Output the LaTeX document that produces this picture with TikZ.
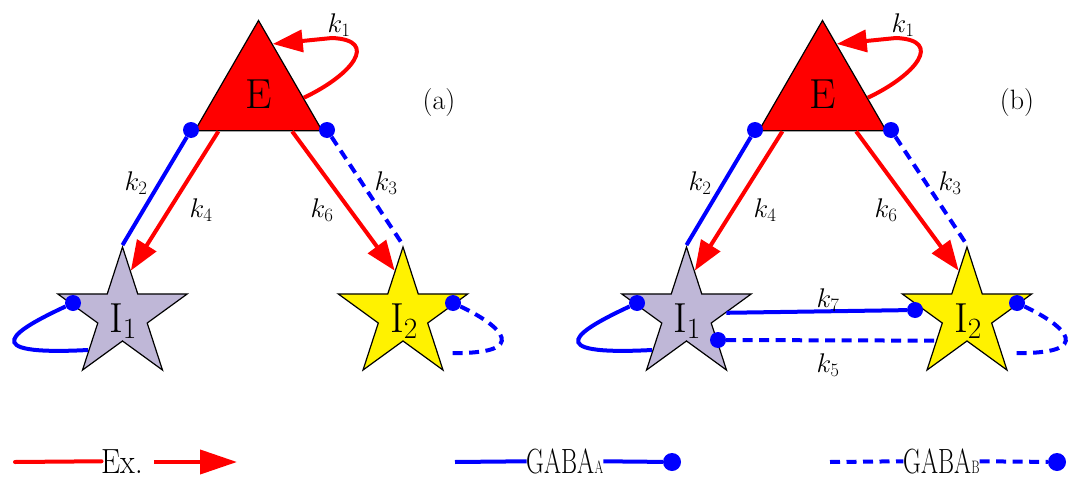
\RequirePackage{fix-cm}
\documentclass[tikz,border=0pt]{standalone}
\usetikzlibrary{calc,shapes.geometric,arrows.meta}
\definecolor{lilac}{RGB}{191,183,215}
\tikzstyle{vx}=[shape=circle, minimum size=16pt, inner sep=0, fill=blue]
\tikzstyle{exc}=[draw=red, line width=4pt, -{Triangle[length=30pt,width=22pt]}]
\tikzstyle{inha}=[draw=blue, line width=4pt]
\tikzstyle{inhb}=[draw=blue, line width=4pt, dash pattern=on 10pt off 6.5pt]
\tikzstyle{cell}=[star, star points=5, star point ratio=2.618, minimum size=136pt, inner sep=0, draw=black, line width=1.2pt]
\tikzstyle{tri}=[regular polygon, regular polygon sides=3, minimum size=147pt, inner sep=0, fill=red, draw=black, line width=1.2pt]
\tikzstyle{big}=[font=\fontsize{42}{42}\selectfont, inner sep=0]
\tikzstyle{klab}=[font=\fontsize{27}{27}\selectfont, inner sep=0]
\tikzstyle{leg}=[font=\fontsize{35}{35}\selectfont, inner sep=0, anchor=base]

\begin{document}
\begin{tikzpicture}[x=1pt,y=-1pt]
\useasboundingbox (0,0) rectangle (1077,479);
\foreach \p/\dx/\lx in {a/0/439,b/564/453}{
\begin{scope}[shift={(\dx,0)}]
\node[tri, big] (e\p) at (258.5,94) {E};
\node[cell, fill=lilac] (ia\p) at (122.5,315) {};
\node[cell, fill=yellow] (ib\p) at (403,315) {};
\node[big] (la\p) at (123,321) {$\mathrm{I}_1$};
\node[big] (lb\p) at (404,321) {$\mathrm{I}_2$};
\node[vx] (dl\p) at (191,130) {};
\node[vx] (dr\p) at (327,130) {};
\node[vx] (da\p) at (73,303) {};
\node[vx] (db\p) at (453,303) {};
\coordinate (ea\p) at (88,350);
\coordinate (eb\p) at (447,353);
\draw[inha] (dl\p) -- (ia\p.outer point 1);
\draw[inhb] (dr\p) -- (ib\p.outer point 1);
\draw[exc] ($(e\p.corner 2)!0.19!(e\p.corner 3)$) -- ($(ia\p.outer point 1)!0.53!(ia\p.inner point 5)$);
\draw[exc] ($(e\p.corner 2)!0.76!(e\p.corner 3)$) -- ($(ib\p.outer point 1)!0.53!(ib\p.inner point 1)$);
\draw[exc] ($(e\p.corner 1)!0.7!(e\p.corner 3)$) .. controls (352,75) and (380,40) .. (332,38) -- ($(e\p.corner 1)!0.22!(e\p.corner 3)$);
\draw[inha] (da\p) .. controls (15,330) and (-28,356) .. (ea\p);
\draw[inhb] (db\p) .. controls (500,325) and (535,355) .. (eb\p);
\node[klab] (k1\p) at (339,25) {$k_1$};
\node[klab] (k2\p) at (136,183) {$k_2$};
\node[klab] (k3\p) at (386,183) {$k_3$};
\node[klab] (k4\p) at (201,210) {$k_4$};
\node[klab] (k6\p) at (322,210) {$k_6$};
\node[font=\fontsize{28}{28}\selectfont] (pl\p) at (\lx,103) {(\p)};
\end{scope}}
\node[vx] (dcb) at (915,310) {};
\node[vx] (ddb) at (718,340) {};
\draw[inha] ($(iab.outer point 5)!0.65!(iab.inner point 4)$) -- (dcb);
\draw[inhb] (ddb) -- ($(ibb.inner point 2)!0.36!(ibb.outer point 3)$);
\node[klab] (k7b) at (828,300) {$k_7$};
\node[klab] (k5b) at (828,365) {$k_5$};
\coordinate (l1) at (15,462);
\coordinate (l2) at (154,462);
\coordinate (l3) at (237,462);
\coordinate (l4) at (455,462);
\coordinate (l5) at (830,462);
\node[leg] (lex) at (122.5,473) {\scalebox{0.87}[1]{Ex.}};
\node[leg] (lga) at (565,473) {\scalebox{0.7}[1]{GABA{\fontsize{18}{18}\selectfont A}}};
\node[leg] (lgb) at (941.5,473) {\scalebox{0.7}[1]{GABA{\fontsize{18}{18}\selectfont B}}};
\node[vx, minimum size=18pt] (dga) at (672,462) {};
\node[vx, minimum size=18pt] (dgb) at (1057,462) {};
\draw[draw=red, line width=4pt, line cap=round] (l1) -- (lex);
\draw[exc, -{Triangle[length=37pt,width=24pt]}] (l2) -- (l3);
\draw[inha] (l4) -- (lga);
\draw[inha] (lga) -- (dga);
\draw[inhb] (l5) -- (lgb);
\draw[inhb] (lgb) -- (dgb);
\end{tikzpicture}
\end{document}
